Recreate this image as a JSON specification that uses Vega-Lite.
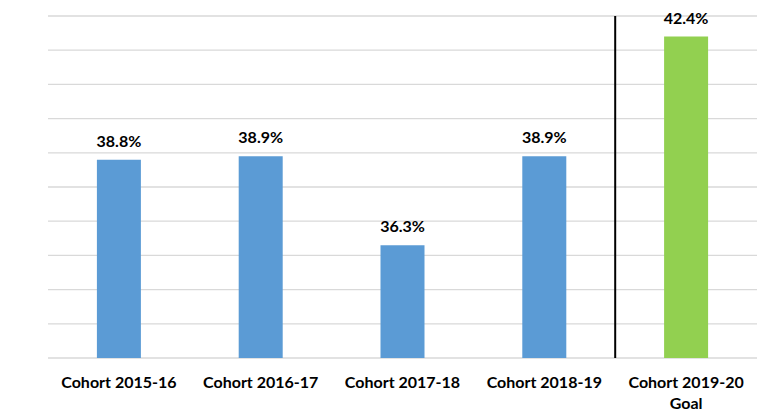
{
  "$schema": "https://vega.github.io/schema/vega-lite/v6.json",
  "width": 709,
  "height": 342,
  "autosize": {"type": "none"},
  "padding": {"left": 48, "top": 16, "right": 21, "bottom": 55},
  "background": "white",
  "config": {
    "view": {"stroke": null},
    "font": "Lato",
    "axisY": {"title": null, "labels": false, "ticks": false, "domain": false, "grid": false}
  },
  "datasets": {
    "rates": [
      {"cohort": "Cohort 2015-16", "rate": 38.8, "kind": "actual"},
      {"cohort": "Cohort 2016-17", "rate": 38.9, "kind": "actual"},
      {"cohort": "Cohort 2017-18", "rate": 36.3, "kind": "actual"},
      {"cohort": "Cohort 2018-19", "rate": 38.9, "kind": "actual"},
      {"cohort": "Cohort 2019-20|Goal", "rate": 42.4, "kind": "goal"}
    ],
    "gridlines": [
      {"level": 33}, {"level": 34}, {"level": 35}, {"level": 36}, {"level": 37}, {"level": 38},
      {"level": 39}, {"level": 40}, {"level": 41}, {"level": 42}, {"level": 43}
    ]
  },
  "layer": [
    {
      "data": {"name": "gridlines"},
      "mark": {"type": "rule", "color": "#D9D9D9", "strokeWidth": 1.3},
      "encoding": {
        "y": {"field": "level", "type": "quantitative", "scale": {"domain": [33, 43], "zero": false, "nice": false}}
      }
    },
    {
      "data": {"name": "rates"},
      "encoding": {
        "x": {
          "field": "cohort",
          "type": "nominal",
          "sort": null,
          "scale": {"paddingInner": 0, "paddingOuter": 0},
          "axis": {
            "title": null,
            "domain": false,
            "ticks": false,
            "labelAngle": 0,
            "labelFont": "Lato",
            "labelFontWeight": "bold",
            "labelFontSize": 16,
            "labelColor": "#000000",
            "labelPadding": 16,
            "labelLineHeight": 21,
            "labelExpr": "split(datum.label, '|')"
          }
        },
        "y": {"field": "rate", "type": "quantitative"}
      },
      "layer": [
        {
          "mark": {"type": "bar", "size": 44},
          "encoding": {
            "y2": {"datum": 33},
            "color": {
              "field": "kind",
              "type": "nominal",
              "scale": {"domain": ["actual", "goal"], "range": ["#5B9BD5", "#92D050"]},
              "legend": null
            }
          }
        },
        {
          "transform": [{"calculate": "format(datum.rate, '.1f') + '%'", "as": "label"}],
          "mark": {"type": "text", "dy": -18, "fontWeight": "bold", "fontSize": 16, "font": "Lato", "color": "#000000"},
          "encoding": {
            "text": {"field": "label", "type": "nominal"}
          }
        },
        {
          "transform": [{"filter": "datum.kind == 'goal'"}],
          "mark": {"type": "rule", "color": "#000000", "strokeWidth": 2},
          "encoding": {
            "x": {"field": "cohort", "type": "nominal", "bandPosition": 0},
            "y": {"datum": 43, "type": "quantitative"},
            "y2": {"datum": 33}
          }
        }
      ]
    }
  ]
}
